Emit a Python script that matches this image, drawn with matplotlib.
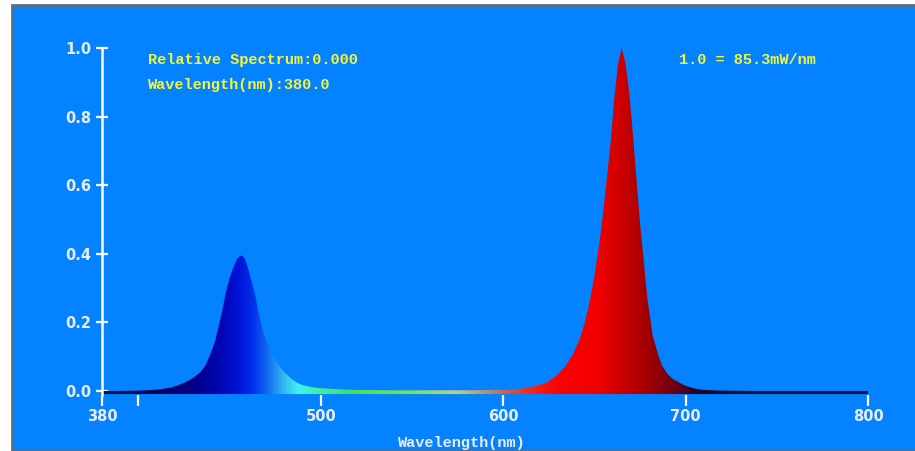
import numpy as np
import matplotlib
matplotlib.use("Agg")
import matplotlib.pyplot as plt
from matplotlib.colors import LinearSegmentedColormap
from matplotlib.patches import Rectangle

# relative spectrum (nm, relative value)
wavelength = [380, 390, 400, 405, 412, 418, 422, 426, 430, 434, 437, 440, 442, 444,
              446, 448, 450, 452, 454, 456, 458, 460, 462, 464, 466, 468, 470, 472,
              474, 477, 480, 484, 487, 490, 495, 500, 510, 520, 540, 560, 580, 595,
              605, 612, 618, 624, 630, 634, 638, 642, 645, 647, 650, 653, 655, 657,
              659, 661, 663, 665, 667, 669, 671, 673, 675, 677, 679, 682, 685, 687,
              690, 693, 697, 700, 705, 710, 720, 740, 760, 780, 800]
relative = [0.000, 0.000, 0.001, 0.002, 0.005, 0.010, 0.017, 0.026, 0.038, 0.055,
            0.077, 0.115, 0.145, 0.190, 0.235, 0.290, 0.330, 0.360, 0.385, 0.395,
            0.390, 0.360, 0.320, 0.280, 0.225, 0.180, 0.147, 0.120, 0.100, 0.075,
            0.055, 0.035, 0.024, 0.017, 0.011, 0.008, 0.005, 0.003, 0.002, 0.002,
            0.002, 0.003, 0.004, 0.008, 0.015, 0.025, 0.048, 0.072, 0.105, 0.152,
            0.205, 0.250, 0.335, 0.442, 0.530, 0.630, 0.730, 0.860, 0.955, 1.000,
            0.955, 0.875, 0.755, 0.620, 0.490, 0.380, 0.270, 0.160, 0.105, 0.075,
            0.050, 0.035, 0.023, 0.015, 0.007, 0.003, 0.001, 0.000, 0.000, 0.000,
            0.000]

xticks = [380, 400, 500, 600, 700, 800]
xticklabels = ["380", "", "500", "600", "700", "800"]
yticks = [0.0, 0.2, 0.4, 0.6, 0.8, 1.0]

# colour of the fill along the wavelength axis
spec_stops = [(380, "#14143c"), (412, "#000060"), (432, "#00008c"), (446, "#0008b8"),
              (455, "#0014d8"), (462, "#0030ea"), (470, "#1068f0"), (478, "#30b0f0"),
              (487, "#40f0f0"), (497, "#40f0b0"), (515, "#40e060"), (545, "#70e060"),
              (575, "#c0d080"), (595, "#b08070"), (612, "#f03020"), (630, "#ff0000"),
              (652, "#f00000"), (665, "#cc0000"), (680, "#a00000"), (692, "#780010"),
              (705, "#300020"), (730, "#101038"), (800, "#10103c")]

bg = "#0582ff"
txt_yellow = "#f4f43c"
txt_white = "#e8ecf4"

fig = plt.figure(figsize=(9.15, 4.51), dpi=100, facecolor="white")
fig.patches.append(Rectangle((12 / 915, 0), 1, 1 - 5 / 451, transform=fig.transFigure,
                             facecolor=bg, edgecolor="#5a6e82", linewidth=2, zorder=-5))

ax = fig.add_axes([102 / 915, 55.9 / 451, 766 / 915, 347.1 / 451])
ax.set_zorder(2)
ax.set_facecolor("none")
ax.set_xlim(380, 800)
ax.set_ylim(-0.012, 1.0)

cmap = LinearSegmentedColormap.from_list(
    "spec", [((w - 380) / 420, c) for w, c in spec_stops])
grad = np.linspace(0, 1, 1000).reshape(1, -1)
im = ax.imshow(grad, cmap=cmap, extent=[380, 800, -0.012, 1.0], aspect="auto",
               origin="lower", interpolation="bilinear", zorder=2)
poly = ax.fill_between(wavelength, relative, -0.009, facecolor="none", edgecolor="none")
im.set_clip_path(poly.get_paths()[0], transform=ax.transData)

for s in ["top", "right", "bottom"]:
    ax.spines[s].set_visible(False)
ax.spines["left"].set_color("white")
ax.spines["left"].set_linewidth(1.8)

ax.set_xticks(xticks)
ax.set_xticklabels(xticklabels)
ax.set_yticks(yticks)
ax.set_yticklabels([f"{v:.1f}" for v in yticks])
ax.tick_params(axis="x", direction="out", length=8, width=1.6, colors="white",
               labelcolor=txt_white, pad=2)
ax.tick_params(axis="y", direction="inout", length=9, width=1.6, colors="white",
               labelcolor=txt_white, pad=3)
for lab in ax.get_xticklabels() + ax.get_yticklabels():
    lab.set_fontfamily("DejaVu Sans")
    lab.set_fontweight("bold")
    lab.set_fontsize(10.5)

mono = dict(family="Liberation Mono", weight="bold", fontsize=11, color=txt_yellow)
fig.text(148 / 915, 1 - 60 / 451, "Relative Spectrum:0.000", va="center", ha="left", **mono)
fig.text(148 / 915, 1 - 85 / 451, "Wavelength(nm):380.0", va="center", ha="left", **mono)
fig.text(679 / 915, 1 - 60 / 451, "1.0 = 85.3mW/nm", va="center", ha="left", **mono)
fig.text(462 / 915, 1 - 443 / 451, "Wavelength(nm)", va="center", ha="center",
         family="Liberation Mono", weight="bold", fontsize=11, color=txt_white)

fig.savefig("out.png", dpi=100, facecolor=fig.get_facecolor())
